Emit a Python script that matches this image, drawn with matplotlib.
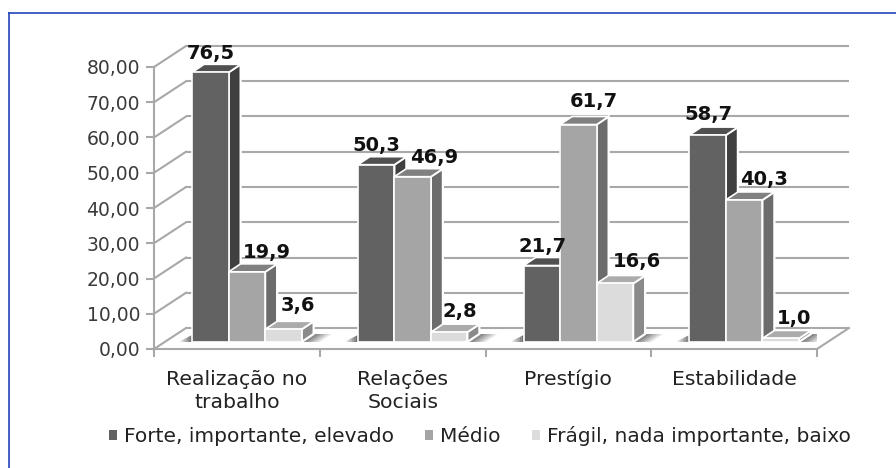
import matplotlib
matplotlib.use('Agg')
import matplotlib.pyplot as plt
from matplotlib.lines import Line2D
from matplotlib.patches import Patch, Polygon

categories = ['Realização no\ntrabalho', 'Relações\nSociais', 'Prestígio', 'Estabilidade']
forte = [76.5, 50.3, 21.7, 58.7]
medio = [19.9, 46.9, 61.7, 40.3]
fragil = [3.6, 2.8, 16.6, 1.0]
series_names = ['Forte, importante, elevado', 'Médio', 'Frágil, nada importante, baixo']
y_ticks = [0, 10, 20, 30, 40, 50, 60, 70, 80]

W, H = 896, 468
FONT = 'DejaVu Sans'

# (front, side, top) greys for each series
colors = [('#626262', '#404040', '#505050'),
          ('#a5a5a5', '#6c6c6c', '#808080'),
          ('#dcdcdc', '#8a8a8a', '#ababab')]
# hand placed label offsets from the bar top centre, in pixels
label_dx = [[0, 20, 15], [0, 21, 11], [1, 15, 22], [1, 20, 13]]
label_dy = [13, 14, 18, 14, 14, 15, 14, 18, 16, 15, 15, 14]

fig = plt.figure(figsize=(W / 100, H / 100), dpi=100)
ax = fig.add_axes([154 / W, (H - 349) / H, 663 / W, 282 / H])
ax.set_xlim(0, 4)
ax.set_ylim(0, 80)

px_x = 4 / 663   # data units per pixel
px_y = 80 / 282
wall_x, wall_y = 32 * px_x, 21 * px_y
depth_x, depth_y = 12 * px_x, 8 * px_y
lift = 7 * px_y
bar_w = 36.5 * px_x
shift = 10 * px_x
grid_c = '#a8a8a8'

# back wall, side wall and floor lines
for v in y_ticks:
    ax.plot([wall_x, 4 + wall_x], [v + wall_y, v + wall_y], color=grid_c, lw=1.5,
            clip_on=False, zorder=1, solid_capstyle='butt')
    ax.plot([0, wall_x], [v, v + wall_y], color=grid_c, lw=1.5, clip_on=False, zorder=1)
ax.plot([4, 4 + wall_x], [0, wall_y], color=grid_c, lw=1.5, clip_on=False, zorder=1)


def floor_shadow(x0, left):
    # fading sliver on the floor beside a group
    steps = 6
    for k in range(steps):
        a = 0.85 * (1 - k / steps)
        if left:
            xs = [x0 - k * 2 * px_x, x0 - (k + 1) * 2 * px_x, x0 - (k + 1) * 2 * px_x, x0 - k * 2 * px_x]
            ys = [lift, lift, lift + (12 - (k + 1) * 2 + 2) * 0.5 * px_y, lift + (12 - k * 2 + 2) * 0.5 * px_y]
        else:
            xs = [x0 + k * 3 * px_x, x0 + (k + 1) * 3 * px_x, x0 + (k + 1) * 3 * px_x + depth_x, x0 + k * 3 * px_x + depth_x]
            ys = [lift, lift, lift + depth_y, lift + depth_y]
        ax.add_patch(Polygon(list(zip(xs, ys)), closed=True, fc='#555555', ec='none', alpha=a, zorder=2))


for i in range(len(categories)):
    first = i + 0.5 + shift - bar_w
    floor_shadow(first - bar_w / 2, True)
    floor_shadow(first + 2.5 * bar_w, False)
    for j, vals in enumerate([forte, medio, fragil]):
        v = vals[i]
        x = first + j * bar_w
        front, side, top = colors[j]
        left, right = x - bar_w / 2, x + bar_w / 2
        h = v + lift
        ax.add_patch(Polygon([(right, lift), (right + depth_x, lift + depth_y),
                              (right + depth_x, h + depth_y), (right, h)],
                             closed=True, fc=side, ec='white', lw=1.6, clip_on=False, zorder=3 + j))
        ax.add_patch(Polygon([(left, h), (right, h), (right + depth_x, h + depth_y),
                              (left + depth_x, h + depth_y)],
                             closed=True, fc=top, ec='white', lw=1.2, clip_on=False, zorder=3 + j))
        ax.bar(x, v, width=bar_w, bottom=lift, color=front, edgecolor='white', lw=1.2, zorder=3 + j)
        ax.annotate(f'{v:.1f}'.replace('.', ','), (x, h),
                    xytext=(label_dx[i][j] * 0.72, label_dy[i * 3 + j] * 0.72),
                    textcoords='offset points', ha='center', va='baseline',
                    fontsize=14, fontweight='bold', family=FONT, color='#111111',
                    annotation_clip=False, zorder=10)

for s in ['top', 'right']:
    ax.spines[s].set_visible(False)
for s in ['left', 'bottom']:
    ax.spines[s].set_color(grid_c)
    ax.spines[s].set_linewidth(1.5)
ax.patch.set_alpha(0)

ax.set_yticks(y_ticks)
ax.set_yticklabels([f'{v:.2f}'.replace('.', ',') for v in y_ticks], fontsize=13.5,
                   family=FONT, color='#3a3a3a')
ax.tick_params(axis='y', color=grid_c, width=1.5, length=6, pad=4)
ax.set_xticks(range(5))
ax.set_xticklabels([])
ax.tick_params(axis='x', which='major', color=grid_c, width=1.5, length=6)
ax.set_xticks([i + 0.5 for i in range(4)], minor=True)
ax.set_xticklabels(categories, minor=True, fontsize=14.7, family=FONT, color='#222222',
                   linespacing=1.3)
ax.tick_params(axis='x', which='minor', length=0, pad=15)

handles = [Patch(fc=c[0], ec='none') for c in colors]
fig.legend(handles, series_names, loc='center left', bbox_to_anchor=(109 / W, (H - 436) / H),
           ncol=3, frameon=False, handlelength=0.4, handleheight=0.4,
           handletextpad=0.35, columnspacing=1.55, borderpad=0, borderaxespad=0,
           prop={'family': FONT, 'size': 14.5}, labelcolor='#222222')

# blue frame, only top and left are in the picture
fig.add_artist(Line2D([8.5 / W, 8.5 / W], [0, (H - 13) / H], color='#2244bb', lw=1.2))
fig.add_artist(Line2D([8.5 / W, 1], [(H - 13) / H, (H - 13) / H], color='#2244bb', lw=1.2))

fig.savefig('out.png', dpi=100, facecolor='white')
